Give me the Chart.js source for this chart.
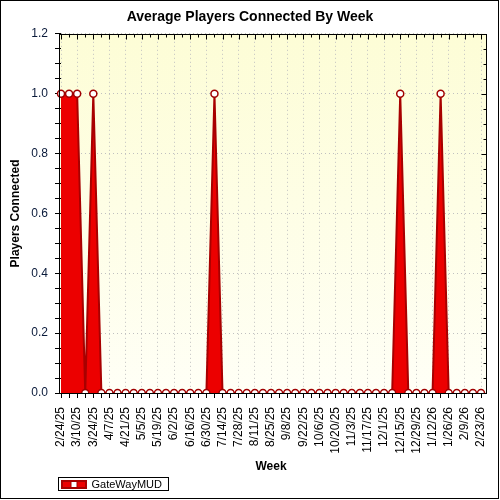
<!DOCTYPE html>
<html>
<head>
<meta charset="utf-8">
<script src="https://cdn.jsdelivr.net/npm/chart.js@4.4.1/dist/chart.umd.min.js"></script>
<style>
  html, body { margin: 0; padding: 0; background: #fff; }
  canvas { display: block; }
</style>
</head>
<body>
<canvas id="weekChart" width="500" height="500"></canvas>
<script>
const weeks = [
  '2/24/25', '3/3/25', '3/10/25', '3/17/25', '3/24/25', '3/31/25', '4/7/25', '4/14/25',
  '4/21/25', '4/28/25', '5/5/25', '5/12/25', '5/19/25', '5/26/25', '6/2/25', '6/9/25',
  '6/16/25', '6/23/25', '6/30/25', '7/7/25', '7/14/25', '7/21/25', '7/28/25', '8/4/25',
  '8/11/25', '8/18/25', '8/25/25', '9/1/25', '9/8/25', '9/15/25', '9/22/25', '9/29/25',
  '10/6/25', '10/13/25', '10/20/25', '10/27/25', '11/3/25', '11/10/25', '11/17/25', '11/24/25',
  '12/1/25', '12/8/25', '12/15/25', '12/22/25', '12/29/25', '1/5/26', '1/12/26', '1/19/26',
  '1/26/26', '2/2/26', '2/9/26', '2/16/26', '2/23/26'
];

const gatewayMud = [
  1, 1, 1, 0, 1, 0, 0, 0,
  0, 0, 0, 0, 0, 0, 0, 0,
  0, 0, 0, 1, 0, 0, 0, 0,
  0, 0, 0, 0, 0, 0, 0, 0,
  0, 0, 0, 0, 0, 0, 0, 0,
  0, 0, 1, 0, 0, 0, 0, 1,
  0, 0, 0, 0, 0
];

const yTicks = [0, 0.2, 0.4, 0.6, 0.8, 1.0, 1.2];

const isMajor = v => yTicks.some(t => Math.abs(t - v) < 1e-6);

// the plot frame sits a few pixels outside the first/last week
const INSET_L = 2;
const INSET_R = 5;

// plot background, frame, mirrored ticks, legend box, outer border
const decorations = {
  id: 'decorations',
  beforeDraw(chart) {
    const { ctx, chartArea: a } = chart;
    ctx.save();
    const g = ctx.createLinearGradient(0, a.top, 0, a.bottom);
    g.addColorStop(0, '#fdfdd6');
    g.addColorStop(1, '#fffff6');
    ctx.fillStyle = g;
    ctx.fillRect(a.left - INSET_L, a.top, a.right - a.left + INSET_L + INSET_R, a.bottom - a.top);
    ctx.restore();
  },
  afterDraw(chart) {
    const { ctx, chartArea: a } = chart;
    const x = chart.scales.x, y = chart.scales.y;
    const left = Math.round(a.left - INSET_L) + 0.5, right = Math.round(a.right + INSET_R) + 0.5;
    const top = Math.round(a.top) + 0.5, bottom = Math.round(a.bottom) + 0.5;
    ctx.save();
    ctx.strokeStyle = '#000';
    ctx.lineWidth = 1;
    ctx.strokeRect(left, top, right - left, bottom - top);
    ctx.beginPath();
    x.ticks.forEach((t, i) => {
      const px = Math.round(x.getPixelForTick(i)) + 0.5;
      ctx.moveTo(px, top);
      ctx.lineTo(px, top + (i % 2 === 0 ? 5 : 3));
    });
    y.ticks.forEach((t, i) => {
      const py = Math.round(y.getPixelForTick(i)) + 0.5;
      ctx.moveTo(right, py);
      ctx.lineTo(right - (isMajor(t.value) ? 5 : 3), py);
    });
    ctx.stroke();

    // legend frame and marker
    const hb = chart.legend.legendHitBoxes[0];
    if (hb) {
      ctx.strokeRect(hb.left - 3.5, hb.top - 1.5, hb.width + 10, hb.height + 2);
      const bw = chart.legend.options.labels.boxWidth;
      const cx = hb.left + bw / 2, cy = hb.top + hb.height / 2;
      ctx.fillStyle = '#fff';
      ctx.strokeStyle = '#a00000';
      ctx.fillRect(cx - 3, cy - 3, 6, 6);
      ctx.strokeRect(cx - 3, cy - 3, 6, 6);
    }

    ctx.strokeStyle = '#000';
    ctx.strokeRect(0.5, 0.5, chart.width - 2, chart.height - 2);
    ctx.restore();
  }
};

new Chart(document.getElementById('weekChart'), {
  type: 'line',
  data: {
    labels: weeks,
    datasets: [{
      label: 'GateWayMUD',
      data: gatewayMud,
      fill: 'origin',
      backgroundColor: '#ec0000',
      borderColor: '#a80000',
      borderWidth: 2,
      tension: 0,
      pointRadius: 3.5,
      pointBackgroundColor: '#ffffff',
      pointBorderColor: '#a00000',
      pointBorderWidth: 1.5
    }]
  },
  plugins: [decorations],
  options: {
    responsive: false,
    animation: false,
    devicePixelRatio: 1,
    layout: { padding: 0 },
    plugins: {
      title: {
        display: true,
        text: 'Average Players Connected By Week',
        color: '#000',
        font: { family: 'Arial, "Liberation Sans"', size: 14, weight: 'bold' },
        padding: { top: 9, bottom: 8 }
      },
      legend: {
        display: true,
        position: 'bottom',
        align: 'start',
        fullSize: false,
        labels: {
          color: '#000',
          boxWidth: 24,
          boxHeight: 7,
          padding: 1,
          font: { family: 'Arial, "Liberation Sans"', size: 11 }
        }
      },
      tooltip: { enabled: false }
    },
    scales: {
      x: {
        offset: false,
        afterFit(scale) {
          scale.height = 85;
          scale.paddingLeft = 0;
          scale.paddingRight = 14 + INSET_R;
        },
        title: {
          display: true,
          text: 'Week',
          color: '#000',
          font: { family: 'Arial, "Liberation Sans"', size: 12, weight: 'bold' },
          padding: { top: 0, bottom: 4 }
        },
        border: { color: '#000', dash: [1, 3] },
        grid: {
          color: c => (c.index % 2 === 0 ? '#c0c0c0' : 'rgba(0,0,0,0)'),
          tickColor: '#000',
          tickLength: 5
        },
        ticks: {
          autoSkip: false,
          minRotation: 90,
          maxRotation: 90,
          padding: 9,
          color: '#000',
          font: { family: 'Arial, "Liberation Sans"', size: 12 },
          callback(v, i) { return i % 2 === 0 ? this.getLabelForValue(v) : ''; }
        }
      },
      y: {
        min: 0,
        max: 1.2,
        afterFit(scale) { scale.width = 59 + INSET_L; },
        title: {
          display: true,
          text: 'Players Connected',
          color: '#000',
          font: { family: 'Arial, "Liberation Sans"', size: 12, weight: 'bold' },
          padding: { top: 8, bottom: 0 }
        },
        border: { display: false, dash: [1, 3] },
        grid: {
          color: c => (c.tick && isMajor(c.tick.value) ? '#c0c0c0' : 'rgba(0,0,0,0)'),
          tickColor: '#000',
          tickLength: 6
        },
        ticks: {
          autoSkip: false,
          stepSize: 0.05,
          padding: 7,
          color: '#0a1a3a',
          font: { family: 'Arial, "Liberation Sans"', size: 12 },
          callback: v => (isMajor(v) ? v.toFixed(1) : '')
        }
      }
    }
  }
});
</script>
</body>
</html>
